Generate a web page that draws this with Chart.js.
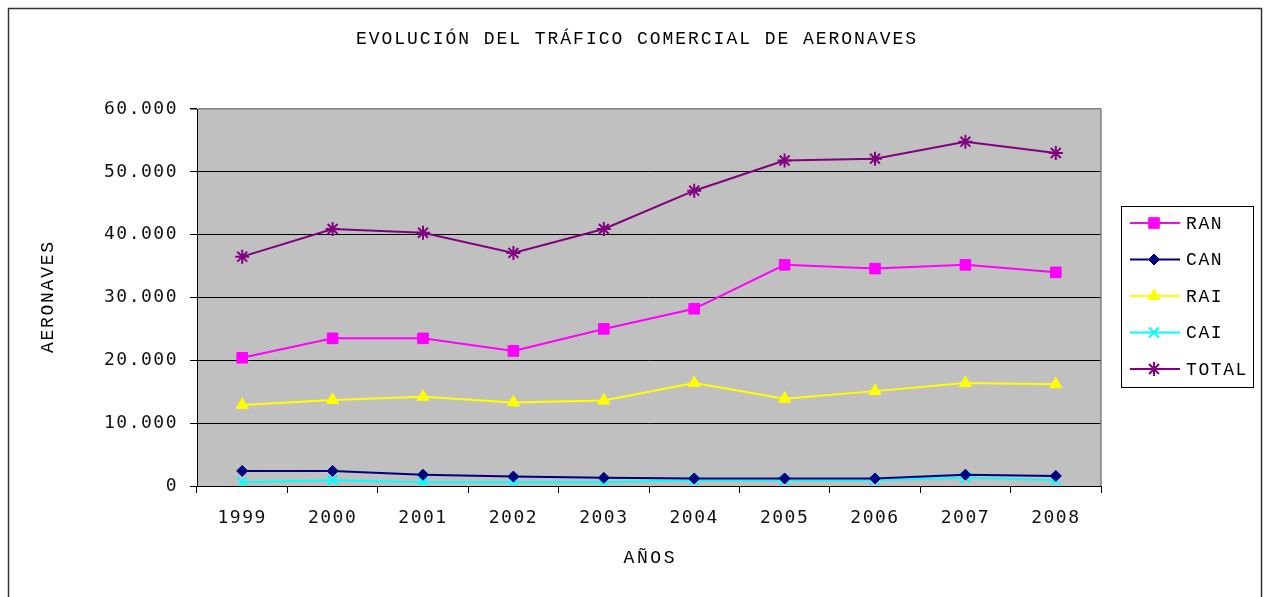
<!DOCTYPE html>
<html>
<head>
<meta charset="utf-8">
<script src="https://cdn.jsdelivr.net/npm/chart.js@4"></script>
<style>
  body { margin: 0; background: #fff; }
  #wrap { position: absolute; left: 0; top: 0; width: 1264px; height: 597px; }
</style>
</head>
<body>
<div id="wrap"><canvas id="chart" width="1264" height="597"></canvas></div>
<script>
const years = ['1999', '2000', '2001', '2002', '2003', '2004', '2005', '2006', '2007', '2008'];
const ran   = [20400, 23500, 23500, 21500, 25000, 28200, 35200, 34600, 35200, 34000];
const can   = [2400, 2400, 1800, 1500, 1300, 1200, 1200, 1200, 1800, 1600];
const rai   = [12900, 13700, 14200, 13300, 13600, 16400, 13900, 15100, 16400, 16200];
const cai   = [600, 900, 600, 600, 600, 900, 900, 900, 1300, 900];
const total = [36500, 40900, 40300, 37100, 40900, 47000, 51800, 52100, 54800, 53000];

const titleText = 'EVOLUCIÓN DEL TRÁFICO COMERCIAL DE AERONAVES';
const xTitle = 'AÑOS';
const yTitle = 'AERONAVES';
const mono = '"Liberation Mono", "Courier New", monospace';
const tickFont = '"DejaVu Sans Mono", monospace';

function fmt(v) {
  return String(v).replace(/\B(?=(\d{3})+(?!\d))/g, '.');
}

function series(label, data, color, style, radius) {
  return {
    label: label,
    data: data,
    borderColor: color,
    backgroundColor: color,
    borderWidth: 2,
    pointStyle: style,
    pointRadius: radius,
    pointHoverRadius: radius,
    pointBorderWidth: (style === 'crossRot' || style === 'star') ? 2 : 1,
    tension: 0
  };
}

// draws text stretched to a given visible width (Courier-like spacing)
function spaced(ctx, text, x, y, width, center) {
  ctx.letterSpacing = '0px';
  const n = [...text].length;
  const w = ctx.measureText(text).width;
  const ls = (width - w) / (n - 1);
  ctx.letterSpacing = ls + 'px';
  ctx.textAlign = 'left';
  ctx.fillText(text, center ? x - width / 2 : x, y);
}

// grey plot background, frame, titles and Excel style legend
const decor = {
  id: 'decor',
  beforeDraw(chart) {
    const ctx = chart.ctx;
    const a = chart.chartArea;
    ctx.letterSpacing = '1.5px';
    ctx.save();
    ctx.fillStyle = '#c0c0c0';
    ctx.fillRect(a.left, a.top, a.right - a.left, a.bottom - a.top);
    ctx.restore();
  },
  beforeDatasetsDraw(chart) {
    const ctx = chart.ctx;
    const a = chart.chartArea;
    ctx.save();
    ctx.strokeStyle = '#808080';
    ctx.lineWidth = 1.5;
    ctx.beginPath();
    ctx.moveTo(a.right, a.top);
    ctx.lineTo(a.right, a.bottom);
    ctx.stroke();
    ctx.restore();
  },
  afterDraw(chart) {
    const ctx = chart.ctx;
    const a = chart.chartArea;
    ctx.save();
    // outer frame
    ctx.strokeStyle = '#333';
    ctx.lineWidth = 1.5;
    ctx.strokeRect(8.5, 8.5, 1253, 620);

    ctx.fillStyle = '#000';
    ctx.textBaseline = 'middle';
    ctx.font = '18px ' + mono;
    // chart title
    spaced(ctx, titleText, 636, 39, 560, true);
    // axis titles
    spaced(ctx, xTitle, (a.left + a.right) / 2, 558, 51, true);
    ctx.save();
    ctx.translate(48, (a.top + a.bottom) / 2);
    ctx.rotate(-Math.PI / 2);
    spaced(ctx, yTitle, 0, 0, 111, true);
    ctx.restore();

    // legend
    ctx.strokeStyle = '#000';
    ctx.lineWidth = 1;
    ctx.strokeRect(1121.5, 206.5, 132, 181);
    chart.data.datasets.forEach((ds, i) => {
      const y = 223 + i * 36.5;
      ctx.strokeStyle = ds.borderColor;
      ctx.lineWidth = 2;
      ctx.beginPath();
      ctx.moveTo(1130, y);
      ctx.lineTo(1180, y);
      ctx.stroke();
      ctx.fillStyle = ds.backgroundColor;
      ctx.lineWidth = ds.pointBorderWidth;
      Chart.helpers.drawPoint(ctx, {
        pointStyle: ds.pointStyle,
        radius: ds.pointRadius,
        borderWidth: ds.pointBorderWidth,
        rotation: 0
      }, 1154, y);
      ctx.fillStyle = '#000';
      const n = ds.label.length;
      spaced(ctx, ds.label, 1186, y + 1, n * 12.4 - 1.6, false);
    });
    ctx.restore();
  }
};

new Chart(document.getElementById('chart'), {
  type: 'line',
  data: {
    labels: years,
    datasets: [
      series('RAN', ran, '#ff00ff', 'rect', 7.5),
      series('CAN', can, '#000080', 'rectRot', 5.5),
      series('RAI', rai, '#ffff00', 'triangle', 7),
      series('CAI', cai, '#00ffff', 'crossRot', 7),
      series('TOTAL', total, '#800080', 'star', 7)
    ]
  },
  options: {
    responsive: false,
    animation: false,
    devicePixelRatio: 1,
    layout: { padding: { top: 109, right: 163, left: 0, bottom: 0 } },
    plugins: {
      legend: { display: false },
      title: { display: false },
      tooltip: { enabled: false }
    },
    scales: {
      x: {
        type: 'category',
        offset: true,
        afterFit(scale) { scale.height = 111; },
        grid: {
          offset: true,
          drawOnChartArea: false,
          drawTicks: true,
          tickLength: 7,
          tickColor: '#000'
        },
        border: { color: '#000', width: 1 },
        ticks: {
          color: '#111',
          font: { family: tickFont, size: 18 },
          padding: 15,
          maxRotation: 0
        }
      },
      y: {
        min: 0,
        max: 60000,
        afterFit(scale) { scale.width = 197; },
        grid: {
          color: (c) => (c.tick && c.tick.value === 60000) ? '#808080' : '#000',
          lineWidth: (c) => (c.tick && c.tick.value === 60000) ? 1.5 : 1,
          tickColor: '#000',
          tickLength: 7
        },
        border: { color: '#000', width: 1 },
        ticks: {
          stepSize: 10000,
          color: '#111',
          font: { family: tickFont, size: 18 },
          padding: 12,
          callback: (v) => fmt(v)
        }
      }
    }
  },
  plugins: [decor]
});
</script>
</body>
</html>
